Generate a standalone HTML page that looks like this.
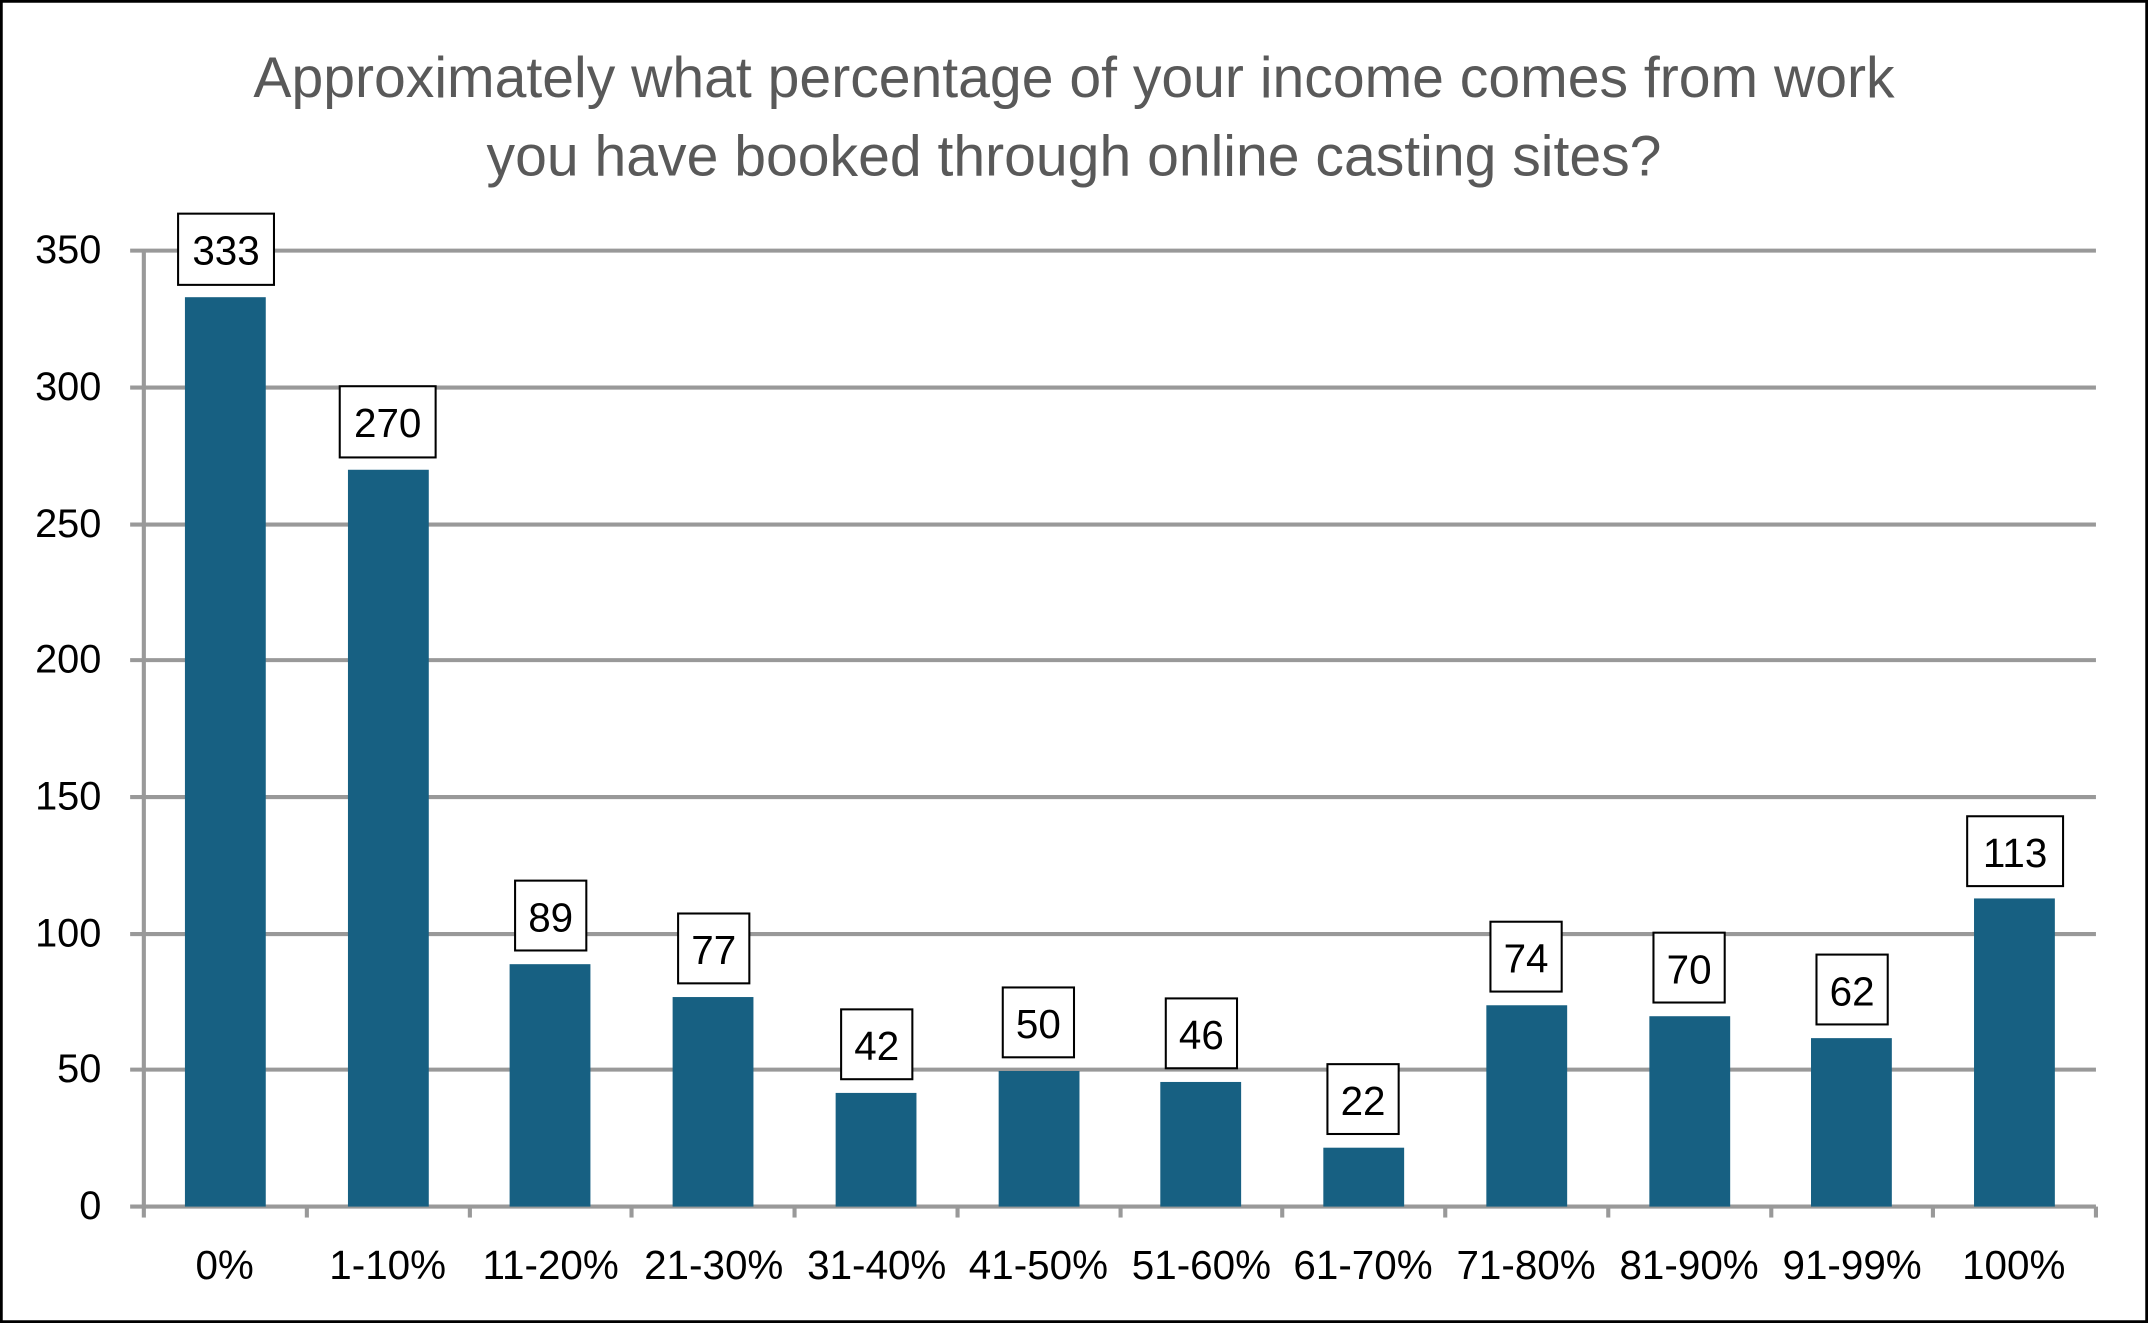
<!DOCTYPE html>
<html><head><meta charset="utf-8"><style>
html,body{margin:0;padding:0;background:#fff;}
svg{display:block;}
</style></head><body>
<svg width="2148" height="1323" viewBox="0 0 1568 966" preserveAspectRatio="none" xmlns="http://www.w3.org/2000/svg" font-family="Liberation Sans, sans-serif">
<rect x="1" y="1" width="1566" height="964" fill="#fff" stroke="#000" stroke-width="2"/>
<text x="784" y="71" text-anchor="middle" font-size="41.7" fill="#595959">Approximately what percentage of your income comes from work</text>
<text x="784" y="128" text-anchor="middle" font-size="41.7" fill="#595959">you have booked through online casting sites?</text>
<g stroke="#999" stroke-width="3">
<line x1="95" y1="183" x2="1530" y2="183"/>
<line x1="95" y1="283" x2="1530" y2="283"/>
<line x1="95" y1="383" x2="1530" y2="383"/>
<line x1="95" y1="482" x2="1530" y2="482"/>
<line x1="95" y1="582" x2="1530" y2="582"/>
<line x1="95" y1="682" x2="1530" y2="682"/>
<line x1="95" y1="781" x2="1530" y2="781"/>
<line x1="105" y1="183" x2="105" y2="881"/>
<line x1="95" y1="881" x2="1530" y2="881"/>
</g>
<g stroke="#999" stroke-width="3">
<line x1="105" y1="881" x2="105" y2="889"/><line x1="224" y1="881" x2="224" y2="889"/><line x1="343" y1="881" x2="343" y2="889"/><line x1="461" y1="881" x2="461" y2="889"/><line x1="580" y1="881" x2="580" y2="889"/><line x1="699" y1="881" x2="699" y2="889"/><line x1="818" y1="881" x2="818" y2="889"/><line x1="936" y1="881" x2="936" y2="889"/><line x1="1055" y1="881" x2="1055" y2="889"/><line x1="1174" y1="881" x2="1174" y2="889"/><line x1="1293" y1="881" x2="1293" y2="889"/><line x1="1411" y1="881" x2="1411" y2="889"/><line x1="1530" y1="881" x2="1530" y2="889"/>
</g>
<g font-size="29" fill="#000" text-anchor="end">
<text x="74" y="192">350</text><text x="74" y="292">300</text><text x="74" y="392">250</text><text x="74" y="491">200</text><text x="74" y="591">150</text><text x="74" y="691">100</text><text x="74" y="790">50</text><text x="74" y="890">0</text>
</g>
<g fill="#176082">
<rect x="135" y="217" width="59" height="664"/>
<rect x="254" y="343" width="59" height="538"/>
<rect x="372" y="704" width="59" height="177"/>
<rect x="491" y="728" width="59" height="153"/>
<rect x="610" y="798" width="59" height="83"/>
<rect x="729" y="782" width="59" height="99"/>
<rect x="847" y="790" width="59" height="91"/>
<rect x="966" y="838" width="59" height="43"/>
<rect x="1085" y="734" width="59" height="147"/>
<rect x="1204" y="742" width="59" height="139"/>
<rect x="1322" y="758" width="59" height="123"/>
<rect x="1441" y="656" width="59" height="225"/>
</g>
<g fill="#fff" stroke="#000" stroke-width="1.5">
<rect x="130" y="156" width="70" height="52"/>
<rect x="248" y="282" width="70" height="52"/>
<rect x="376" y="643" width="52" height="51"/>
<rect x="495" y="667" width="52" height="51"/>
<rect x="614" y="737" width="52" height="51"/>
<rect x="732" y="721" width="52" height="51"/>
<rect x="851" y="729" width="52" height="51"/>
<rect x="969" y="777" width="52" height="51"/>
<rect x="1088" y="673" width="52" height="51"/>
<rect x="1207" y="681" width="52" height="51"/>
<rect x="1326" y="697" width="52" height="51"/>
<rect x="1436" y="596" width="70" height="51"/>
</g>
<g font-size="29.5" fill="#000" text-anchor="middle">
<text x="165" y="193">333</text><text x="283" y="319">270</text><text x="402" y="680">89</text><text x="521" y="704">77</text><text x="640" y="774">42</text><text x="758" y="758">50</text><text x="877" y="766">46</text><text x="995" y="814">22</text><text x="1114" y="710">74</text><text x="1233" y="718">70</text><text x="1352" y="734">62</text><text x="1471" y="633">113</text>
</g>
<g font-size="29.5" fill="#000" text-anchor="middle">
<text x="164" y="934">0%</text><text x="283" y="934">1-10%</text><text x="402" y="934">11-20%</text><text x="521" y="934">21-30%</text><text x="640" y="934">31-40%</text><text x="758" y="934">41-50%</text><text x="877" y="934">51-60%</text><text x="995" y="934">61-70%</text><text x="1114" y="934">71-80%</text><text x="1233" y="934">81-90%</text><text x="1352" y="934">91-99%</text><text x="1470" y="934">100%</text>
</g>
</svg>
</body></html>
